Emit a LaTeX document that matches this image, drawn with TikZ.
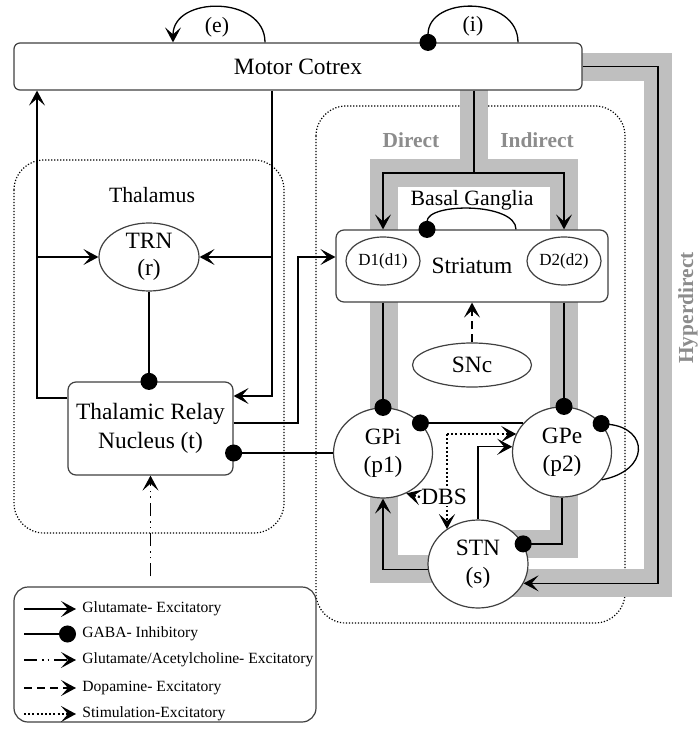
\documentclass[tikz,border=0pt]{standalone}
\usepackage{fontspec}
\setmainfont{Liberation Serif}
\usetikzlibrary{arrows.meta,shapes.geometric}

\begin{document}
\begin{tikzpicture}[x=0.5pt,y=-0.5pt,
  big/.style={font=\fontsize{11.7}{14}\selectfont},
  mid/.style={font=\fontsize{10.9}{13}\selectfont},
  small/.style={font=\fontsize{7.8}{9}\selectfont},
  block/.style={draw=black!75,line width=.6pt,fill=white,rounded corners=4pt,
                align=center,big,inner sep=0pt},
  nucleus/.style={ellipse,draw=black!75,line width=.6pt,fill=white,
                  align=center,big,inner sep=0pt},
  region/.style={line width=.6pt,dash pattern=on .6pt off .9pt,rounded corners=15pt},
  band/.style={black!25,line width=14pt},
  tag/.style={font=\fontsize{10.7}{12}\selectfont\bfseries,text=black!45},
  conn/.style={line width=.65pt},
  exc/.style={conn,-{Stealth[length=7.5pt,width=8pt,inset=3.5pt]}},
  inh/.style={conn,-{Circle[length=8.5pt]},shorten >=-4.25pt},
  ach/.style={exc,dash pattern=on 6.5pt off 2.5pt on .8pt off 2pt on .8pt off 2.5pt},
  dop/.style={exc,dash pattern=on 4pt off 2.5pt},
  stim/.style={exc,line width=1.1pt,dash pattern=on 1pt off 1.1pt}]
\useasboundingbox (0,0) rectangle (699,731);

% regions
\draw[region] (14,160) rectangle (284,533);
\draw[region] (316,106) rectangle (625,623);
\node[mid] (thallabel) at (152,195) {Thalamus};
\node[mid] (bglabel) at (472,200) {Basal Ganglia};
\node[tag] (direct) at (411,140) {Direct};
\node[tag] (indirect) at (537,140) {Indirect};
\node[tag,rotate=90] (hyper) at (688,308) {Hyperdirect};

% pathways
\draw[band] (474,80) -- (474,173) -- (384,173) -- (384,569) -- (460,569);
\draw[band] (474,173) -- (564,173) -- (564,544) -- (500,544);
\draw[band] (570,67.5) -- (658,67.5) -- (658,583) -- (500,583);

% nuclei
\node[block,minimum width=284pt,minimum height=23.5pt,rounded corners=3pt]
  (cortex) at (298,66.5) {Motor Cotrex};
\node[nucleus,minimum width=50pt,minimum height=34pt,
  font=\fontsize{11.7}{13.5}\selectfont] (trn) at (149,257) {TRN\\(r)};
\node[block,minimum width=82.5pt,minimum height=46.5pt,
  font=\fontsize{11.7}{14.5}\selectfont] (relay) at (150.5,428.5)
  {Thalamic Relay\\Nucleus (t)};
\node[block,minimum width=136pt,minimum height=36pt] (striatum) at (472,266) {Striatum};
\node[nucleus,minimum width=37pt,minimum height=24pt,
  font=\fontsize{8.5}{10}\selectfont] (dOne) at (383,261) {D1(d1)};
\node[nucleus,minimum width=37pt,minimum height=24pt,
  font=\fontsize{8.5}{10}\selectfont] (dTwo) at (564,261) {D2(d2)};
\node[nucleus,minimum width=59.5pt,minimum height=22pt] (snc) at (472,365) {SNc};
\node[nucleus,minimum width=49.5pt,minimum height=45pt] (gpi) at (383,453) {GPi\\(p1)};
\node[nucleus,minimum width=49.5pt,minimum height=45pt] (gpe) at (562,452) {GPe\\(p2)};
\node[nucleus,minimum width=50pt,minimum height=44pt] (stn) at (478,564) {STN\\(s)};

% cortex loops
\node[mid] (eloop) at (217,27) {(e)};
\node[mid] (iloop) at (473,26) {(i)};
\draw[exc] (cortex.north -| 265,0) .. controls +(0,-47) and +(0,-47) .. (cortex.north -| 173,0);
\draw[inh] (cortex.north -| 518,0) .. controls +(0,-47) and +(0,-47) .. (cortex.north -| 428,0);

% thalamus
\coordinate (tl) at (37,398);
\coordinate (tr) at (272,396);
\coordinate (tq) at (298,423);
\draw[exc] (tl -| relay.west) -- (tl) -- (tl |- cortex.south);
\draw[exc] (tl |- trn) -- (trn.west);
\draw[exc] (tr |- cortex.south) -- (tr) -- (tr -| relay.east);
\draw[exc] (tr |- trn) -- (trn.east);
\draw[inh] (trn.south) -- (trn.south |- relay.north);
\draw[exc] (tq -| relay.east) -- (tq) |- (striatum.west |- trn);
\draw[inh] (gpi.west) -- (gpi.west -| relay.east);

% basal ganglia
\coordinate (split) at (474,173);
\draw[conn] (split |- cortex.south) -- (split);
\draw[exc] (split) -| (dOne |- striatum.north);
\draw[exc] (split) -| (dTwo |- striatum.north);
\draw[inh] (striatum.north -| 516,0) .. controls +(0,-27) and +(0,-27) .. (striatum.north -| 427,0);
\draw[inh] (dOne |- striatum.south) -- (gpi.north);
\draw[inh] (dTwo |- striatum.south) -- (dTwo |- gpe.north);
\draw[dop] (snc.north) -- (snc.north |- striatum.south);
\draw[inh] (gpe.143) -- (gpe.143 -| gpi.39);
\draw[inh] (gpe.325) .. controls +(48,-9) and +(48,5) .. (gpe.36);
\draw[exc] (stn.north) |- (gpe.174);
\draw[inh] (gpe.south) |- (stn.24);
\draw[exc] (stn.186) -| (gpi.south);
\draw[exc] (cortex.east) -| (stn.337 -| 658,0) -- (stn.337);

% stimulation
\coordinate (dbsc) at (447,434);
\draw[stim] (dbsc) -- (dbsc -| gpe.158);
\draw[stim] (dbsc) -- (dbsc |- stn.132);
\node[big,fill=white,inner sep=.5pt] (dbs) at (444,497) {DBS};
\draw[stim] (dbs.west) -- (gpi.300);

% legend
\node[draw=black!75,line width=.6pt,rounded corners=7pt,minimum width=151pt,
  minimum height=67.5pt] (legend) at (165,654.5) {};
\draw[ach,shorten <=5pt] (relay.south |- legend.north) -- (relay.south);
\foreach \y/\kind/\txt [count=\i] in
  {609/exc/Glutamate- Excitatory,
   634/inh/GABA- Inhibitory,
   660/ach/{Glutamate/Acetylcholine- Excitatory},
   688/dop/Dopamine- Excitatory,
   714/stim/Stimulation-Excitatory}
{
  \node[small,anchor=west,inner sep=0pt] (key\i) at (82,\y) {\txt};
  \draw[\kind,shorten >=0pt] ([xshift=-29pt]key\i.west) -- ([xshift=-3pt]key\i.west);
}
\end{tikzpicture}
\end{document}
